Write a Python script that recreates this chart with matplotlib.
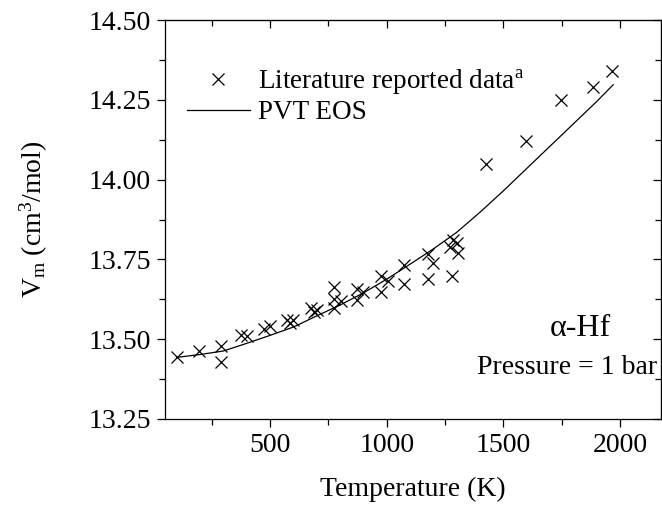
import matplotlib
matplotlib.use("Agg")
import matplotlib.pyplot as plt
from matplotlib.ticker import MultipleLocator, FormatStrFormatter
from matplotlib.lines import Line2D

plt.rcParams['font.family'] = ['Liberation Serif', 'DejaVu Serif']
plt.rcParams['mathtext.fontset'] = 'custom'
plt.rcParams['mathtext.rm'] = 'Liberation Serif'
plt.rcParams['mathtext.it'] = 'Liberation Serif:italic'
plt.rcParams['mathtext.bf'] = 'Liberation Serif:bold'

# Literature reported data
T_lit = [100, 197, 290, 290, 374, 400, 474, 500, 571, 585, 597, 676, 700, 690,
         775, 775, 804, 775, 874, 874, 900, 976, 976, 1004, 1075, 1075, 1178,
         1200, 1178, 1278, 1271, 1285, 1300, 1307, 1424, 1596, 1746, 1885, 1967]
V_lit = [13.443, 13.462, 13.479, 13.430, 13.512, 13.510, 13.533, 13.540, 13.559,
         13.552, 13.560, 13.599, 13.591, 13.585, 13.662, 13.625, 13.620, 13.599,
         13.658, 13.622, 13.649, 13.698, 13.649, 13.682, 13.732, 13.672, 13.766,
         13.740, 13.690, 13.698, 13.790, 13.812, 13.800, 13.770, 14.049, 14.120,
         14.250, 14.290, 14.340]

# PVT EOS curve
T_eos = [100, 200, 300, 400, 500, 600, 700, 800, 900, 1000, 1100, 1200, 1300,
         1400, 1500, 1600, 1700, 1800, 1900, 1970]
V_eos = [13.443, 13.452, 13.463, 13.487, 13.512, 13.538, 13.573, 13.607, 13.645,
         13.688, 13.735, 13.783, 13.835, 13.898, 13.965, 14.035, 14.105, 14.175,
         14.245, 14.297]

fig = plt.figure(figsize=(6.62, 5.07), dpi=100)
ax = fig.add_axes([165/662, 1-419/507, 496/662, 399/507])

ax.plot(T_lit, V_lit, linestyle='none', marker='x', color='black',
        markersize=8, markeredgewidth=0.9)
ax.plot(T_eos, V_eos, color='black', linewidth=0.9)

ax.set_xlim(50, 2175)
ax.set_ylim(13.25, 14.50)
ax.xaxis.set_major_locator(MultipleLocator(500))
ax.xaxis.set_minor_locator(MultipleLocator(250))
ax.yaxis.set_major_locator(MultipleLocator(0.25))
ax.yaxis.set_minor_locator(MultipleLocator(0.125))
ax.yaxis.set_major_formatter(FormatStrFormatter('%.2f'))

ax.tick_params(which='major', direction='out', length=6, width=0.9, labelsize=20, pad=4)
ax.tick_params(which='minor', direction='out', length=4, width=0.9)
for s in ax.spines.values():
    s.set_linewidth(0.9)

secx = ax.secondary_xaxis('top')
secx.xaxis.set_major_locator(MultipleLocator(500))
secx.xaxis.set_minor_locator(MultipleLocator(250))
secx.tick_params(which='major', direction='in', length=6, width=0.9, labeltop=False)
secx.tick_params(which='minor', direction='in', length=4, width=0.9)
secy = ax.secondary_yaxis('right')
secy.yaxis.set_major_locator(MultipleLocator(0.25))
secy.yaxis.set_minor_locator(MultipleLocator(0.125))
secy.tick_params(which='major', direction='in', length=6, width=0.9, labelright=False)
secy.tick_params(which='minor', direction='in', length=4, width=0.9)

ax.set_xlabel('Temperature (K)', fontsize=20, labelpad=14)
ax.set_ylabel(r'V$_\mathrm{m}$ (cm$^3$/mol)', fontsize=20, labelpad=28)

handles = [Line2D([], [], linestyle='none', marker='x', color='black', markersize=8, markeredgewidth=0.9),
           Line2D([], [], color='black', linewidth=0.9)]
ax.legend(handles, [r'Literature reported data$^\mathrm{a}$', 'PVT EOS'],
          loc='upper left', bbox_to_anchor=(0.045, 0.882), frameon=False,
          fontsize=19.5, handlelength=2.3, handletextpad=0.3, labelspacing=0.15,
          borderpad=0, borderaxespad=0)

ax.text(0.837, 0.228, 'α-Hf', transform=ax.transAxes, fontsize=23,
        ha='center', va='center')
ax.text(0.992, 0.128, 'Pressure = 1 bar', transform=ax.transAxes, fontsize=20,
        ha='right', va='center')

fig.savefig('out.png', dpi=100)
